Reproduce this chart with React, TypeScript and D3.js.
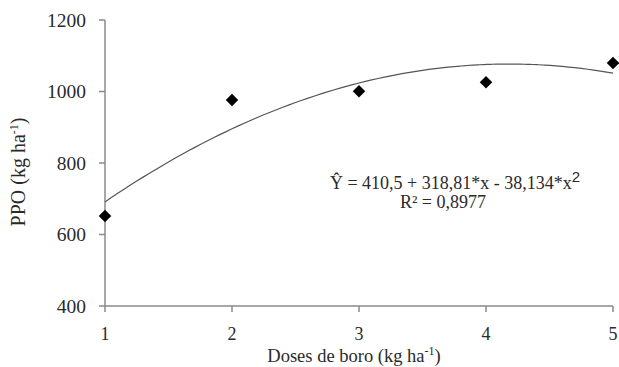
import React from "react";
import * as d3 from "d3";

const doses = [1, 2, 3, 4, 5];
const ppo = [652, 976, 1001, 1026, 1080];
const yTicks = [400, 600, 800, 1000, 1200];
const xTicks = [1, 2, 3, 4, 5];
const coef = [410.5, 318.81, -38.134];

export default function App() {
  const W = 619, H = 367;
  const x = d3.scaleLinear().domain([1, 5]).range([105, 613]);
  const y = d3.scaleLinear().domain([400, 1200]).range([306, 20]);
  const curveX = d3.range(1, 5.0001, 0.05);
  const line = d3
    .line<number>()
    .x((d) => x(d))
    .y((d) => y(coef[0] + coef[1] * d + coef[2] * d * d))
    .curve(d3.curveMonotoneX);
  const diamond = d3.symbol().type(d3.symbolSquare).size(78)() as string;
  const font = "'Liberation Serif', 'Times New Roman', serif";
  const axisColor = "#8a8a8a";
  const textColor = "#2a2a2a";
  return (
    <svg width={W} height={H} style={{ position: "absolute", left: 0, top: 0, background: "#fff" }}>
      <g fontFamily={font} fill={textColor}>
        {/* y axis */}
        <line x1={x(1)} x2={x(1)} y1={y(400)} y2={y(1200)} stroke={axisColor} strokeWidth={1.5} />
        {yTicks.map((t) => (
          <g key={t}>
            <line x1={x(1) - 6} x2={x(1)} y1={y(t)} y2={y(t)} stroke={axisColor} strokeWidth={1.5} />
            <text x={86} y={y(t)} dy="0.35em" textAnchor="end" fontSize={19.5}>
              {t}
            </text>
          </g>
        ))}
        {/* x axis */}
        <line x1={x(1)} x2={x(5)} y1={y(400)} y2={y(400)} stroke={axisColor} strokeWidth={1.5} />
        {xTicks.map((t) => (
          <g key={t}>
            <line x1={x(t)} x2={x(t)} y1={y(400)} y2={y(400) + 6} stroke={axisColor} strokeWidth={1.5} />
            <text x={x(t)} y={340} textAnchor="middle" fontSize={18}>
              {t}
            </text>
          </g>
        ))}
        <text x={354} y={362} textAnchor="middle" fontSize={18.5}>
          Doses de boro (kg ha
          <tspan dy={-7} fontSize={12}>-1</tspan>
          <tspan dy={7}>)</tspan>
        </text>
        <text transform={`translate(25,172) rotate(-90)`} textAnchor="middle" fontSize={20}>
          PPO (kg ha
          <tspan dy={-7} fontSize={12}>-1</tspan>
          <tspan dy={7}>)</tspan>
        </text>
        {/* regression curve */}
        <path d={line(curveX) as string} fill="none" stroke="#555" strokeWidth={1.2} />
        {/* points */}
        {doses.map((d, i) => (
          <path
            key={d}
            d={diamond}
            transform={`translate(${x(d)},${y(ppo[i])}) rotate(45)`}
            fill="#000"
          />
        ))}
        {/* equation */}
        <text x={455} y={189} textAnchor="middle" fontSize={18}>
          Ŷ = 410,5 + 318,81*x - 38,134*x
          <tspan dy={-7} fontSize={15} fontFamily="'Liberation Sans', Arial, sans-serif">2</tspan>
        </text>
        <text x={443} y={208} textAnchor="middle" fontSize={18}>
          R² = 0,8977
        </text>
      </g>
    </svg>
  );
}
